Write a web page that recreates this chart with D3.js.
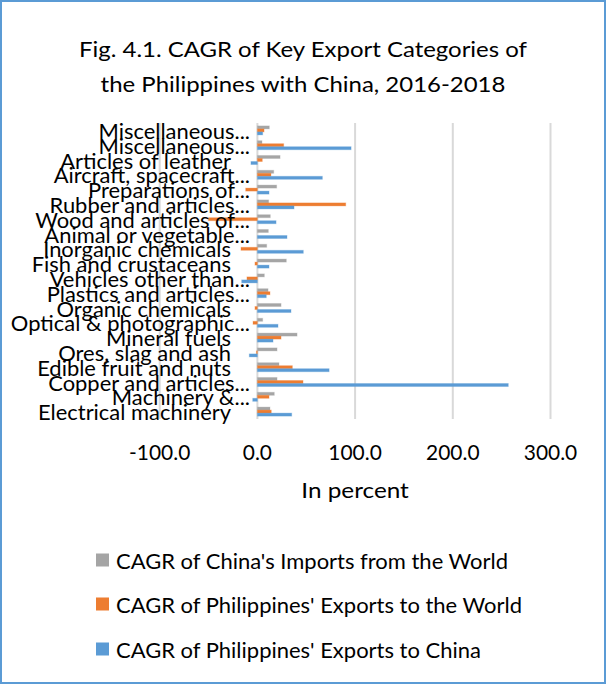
<!DOCTYPE html>
<html>
<head>
<meta charset="utf-8">
<script src="https://cdn.jsdelivr.net/npm/d3@7"></script>
<style>
  html, body { margin: 0; padding: 0; background: #fff; }
  svg { display: block; font-family: Lato, "Open Sans", sans-serif; }
</style>
</head>
<body>
<svg id="chart" width="606" height="684"></svg>
<script>
// Categories, top to bottom as listed in the chart
const categories = [
  "Miscellaneous...", "Miscellaneous...", "Articles of leather", "Aircraft, spacecraft...",
  "Preparations of...", "Rubber and articles...", "Wood and articles of...", "Animal or vegetable...",
  "Inorganic chemicals", "Fish and crustaceans", "Vehicles other than...", "Plastics and articles...",
  "Organic chemicals", "Optical & photographic...", "Mineral fuels", "Ores, slag and ash",
  "Edible fruit and nuts", "Copper and articles...", "Machinery &...", "Electrical machinery"
];

// CAGR 2016-2018, in percent (same order as categories)
const chinaImportsWorld = [12.2, 4.7, 23.2, 16.7, 19.7, 11.5, 13.2, 11.2, 9.5, 29.6,
                           7.1, 10.9, 24.2, 5.4, 40.6, 20.1, 22.1, 20.1, 17.3, 12.9];
const phExportsWorld    = [6.8, 26.9, 5.0, 13.9, -12.0, 90.4, -50.3, 0.0, -16.8, -2.5,
                           -10.7, 12.9, -2.5, -4.5, 24.2, -1.0, 35.8, 46.7, 11.9, 14.2];
const phExportsChina    = [5.4, 95.9, -6.6, 66.5, 11.9, 37.5, 19.1, 30.3, 47.0, 11.9,
                           -16.1, 9.1, 34.4, 21.1, 16.0, -8.3, 73.4, 256.8, -4.8, 35.1];

const seriesNames = [
  "CAGR of China's Imports from the World",
  "CAGR of Philippines' Exports to the World",
  "CAGR of Philippines' Exports to China"
];
const seriesColors = ["#A5A5A5", "#ED7D31", "#5B9BD5"];
const seriesValues = [chinaImportsWorld, phExportsWorld, phExportsChina];

const xTicks = [-100, 0, 100, 200, 300];
const titleLines = ["Fig. 4.1. CAGR of Key Export Categories of",
                    "the Philippines with China, 2016-2018"];
const axisTitle = "In percent";

const svg = d3.select("#chart");
const FONT_SIZE = 21;

// Condense a group of texts horizontally so that a reference string
// would span the given width at the common font size.
function condense(sel, refText, target) {
  const probe = svg.append("text").attr("font-size", FONT_SIZE).text(refText);
  const k = target / probe.node().getComputedTextLength();
  probe.remove();
  sel.attr("font-size", FONT_SIZE).each(function () {
    const w = this.getComputedTextLength();
    d3.select(this).attr("textLength", w * k).attr("lengthAdjust", "spacingAndGlyphs");
  });
}

// Outer frame
svg.append("rect")
  .attr("x", 1).attr("y", 1).attr("width", 604).attr("height", 682)
  .attr("fill", "#fff").attr("stroke", "#5B9BD5").attr("stroke-width", 2);

// Title
const titles = svg.append("g").selectAll("text").data(titleLines).join("text")
  .attr("x", 303).attr("y", (d, i) => 48 + i * 35)
  .attr("text-anchor", "middle").attr("dominant-baseline", "central")
  .attr("fill", "#000").text(d => d);
condense(titles, titleLines[0], 448);

// Scales
const x = d3.scaleLinear().domain([-100, 300]).range([159.7, 550.5]);
const y = d3.scaleBand().domain(d3.range(categories.length))
  .range([123, 419]).paddingInner(0.39).paddingOuter(0.195);
const ySub = d3.scaleBand().domain(d3.range(seriesNames.length))
  .range([0, y.bandwidth()]);

// Vertical gridlines
svg.append("g").selectAll("line").data(xTicks).join("line")
  .attr("x1", d => x(d)).attr("x2", d => x(d))
  .attr("y1", 123).attr("y2", 419)
  .attr("stroke", "#D9D9D9").attr("stroke-width", 2);

// Bars, with a faint same-colour edge
const groups = svg.append("g").selectAll("g").data(categories).join("g")
  .attr("transform", (d, i) => `translate(0,${y(i)})`);
groups.selectAll("rect")
  .data((d, i) => seriesValues.map((vals, s) => ({ s, v: vals[i] })))
  .join("rect")
  .attr("x", d => x(Math.min(0, d.v)))
  .attr("width", d => Math.abs(x(d.v) - x(0)))
  .attr("y", d => ySub(d.s))
  .attr("height", ySub.bandwidth())
  .attr("fill", d => seriesColors[d.s])
  .attr("stroke", d => seriesColors[d.s])
  .attr("stroke-opacity", 0.3)
  .attr("stroke-width", 1);

// Category labels (drawn next to the zero line)
const labels = svg.append("g").selectAll("text").data(categories).join("text")
  .attr("x", d => d.endsWith("...") ? 250 : 231)
  .attr("y", (d, i) => y(i) + y.bandwidth() / 2)
  .attr("text-anchor", "end").attr("dominant-baseline", "central")
  .attr("fill", "#000")
  .text(d => d);
condense(labels, "Electrical machinery", 193);

// X axis tick labels
const fmt = d => d3.format(".1f")(d).replace("\u2212", "-");
const ticks = svg.append("g").selectAll("text").data(xTicks).join("text")
  .attr("x", d => x(d)).attr("y", 451)
  .attr("text-anchor", "middle").attr("dominant-baseline", "central")
  .attr("fill", "#000")
  .text(fmt);
condense(ticks, "300.0", 53.5);

// Axis title
const at = svg.append("text").attr("x", (x(-100) + x(300)) / 2).attr("y", 489)
  .attr("text-anchor", "middle").attr("dominant-baseline", "central")
  .attr("fill", "#000").text(axisTitle);
condense(at, axisTitle, 107.5);

// Legend
const legendY = [560, 604, 649];
const lg = svg.append("g");
seriesNames.forEach((name, s) => {
  lg.append("rect").attr("x", 96).attr("y", legendY[s] - 6.5)
    .attr("width", 13).attr("height", 13).attr("fill", seriesColors[s]);
});
const legTexts = lg.selectAll("text").data(seriesNames).join("text")
  .attr("x", 116).attr("y", (d, i) => legendY[i])
  .attr("dominant-baseline", "central")
  .attr("fill", "#000").text(d => d);
condense(legTexts, seriesNames[0], 392);
</script>
</body>
</html>
